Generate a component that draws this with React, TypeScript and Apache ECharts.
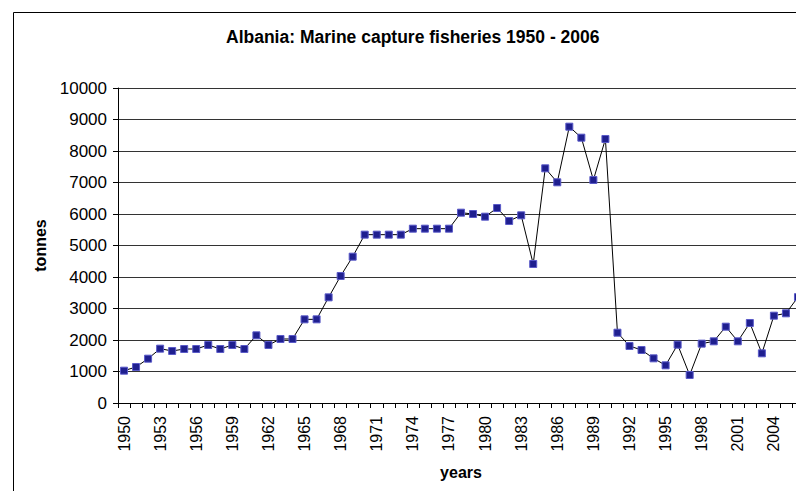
import React, { useEffect, useRef } from "react";
import * as echarts from "echarts";

const years: string[] = [];
for (let y = 1950; y <= 2006; y++) years.push(String(y));

const tonnes = [
  1026, 1143, 1407, 1725, 1651, 1714, 1714, 1841, 1714, 1841,
  1714, 2148, 1841, 2032, 2032, 2656, 2656, 3354, 4032, 4645,
  5344, 5344, 5344, 5344, 5534, 5534, 5534, 5534, 6042, 6000,
  5915, 6190, 5778, 5958, 4413, 7450, 7006, 8772, 8423, 7079,
  8381, 2232, 1810, 1683, 1418, 1196, 1852, 889, 1884, 1958,
  2423, 1958, 2540, 1577, 2772, 2847, 3360,
];

const titleText = "Albania: Marine capture fisheries 1950 - 2006";
const FONT = "'Liberation Sans', Arial, sans-serif";

export default function App() {
  const ref = useRef<HTMLDivElement>(null);
  useEffect(() => {
    if (!ref.current) return;
    document.body.style.overflow = "hidden";
    const chart = echarts.init(ref.current, undefined, { renderer: "svg" });
    chart.setOption({
      animation: false,
      backgroundColor: "#ffffff",
      textStyle: { fontFamily: FONT },
      title: {
        text: titleText,
        left: 226,
        top: 28,
        padding: 0,
        textStyle: { fontFamily: FONT, fontSize: 17.5, fontWeight: "bold", color: "#000" },
      },
      graphic: [
        {
          type: "rect",
          shape: { x: 13.5, y: 12.5, width: 900, height: 600 },
          style: { fill: "none", stroke: "#000", lineWidth: 1 },
          silent: true,
        },
      ],
      grid: { left: 118, top: 88, width: 686, height: 315, containLabel: false },
      xAxis: {
        type: "category",
        data: years,
        boundaryGap: true,
        name: "years",
        nameLocation: "middle",
        nameGap: 61,
        nameTextStyle: { fontFamily: FONT, fontSize: 16, fontWeight: "bold", color: "#000" },
        axisLine: { lineStyle: { color: "#000", width: 1 } },
        axisTick: { show: true, interval: 0, length: 5, lineStyle: { color: "#000" } },
        axisLabel: {
          interval: 2,
          rotate: 90,
          margin: 13,
          fontFamily: FONT,
          fontSize: 16,
          color: "#000",
        },
        splitLine: { show: false },
      },
      yAxis: {
        type: "value",
        min: 0,
        max: 10000,
        interval: 1000,
        name: "tonnes",
        nameLocation: "middle",
        nameGap: 70,
        nameTextStyle: { fontFamily: FONT, fontSize: 16, fontWeight: "bold", color: "#000" },
        axisLine: { show: true, lineStyle: { color: "#000", width: 1 } },
        axisTick: { show: true, length: 5, lineStyle: { color: "#000" } },
        axisLabel: {
          margin: 11,
          fontFamily: FONT,
          fontSize: 17,
          color: "#000",
          formatter: (v: number) => String(v),
        },
        splitLine: { show: true, lineStyle: { color: "#333", width: 1 } },
      },
      series: [
        {
          type: "line",
          data: tonnes,
          symbol: "rect",
          symbolSize: 7,
          clip: false,
          lineStyle: { color: "#000", width: 1 },
          itemStyle: { color: "#1f1f8f", borderColor: "#5a5ac8", borderWidth: 1 },
        },
      ],
    });
    return () => chart.dispose();
  }, []);
  return (
    <div
      ref={ref}
      style={{ position: "fixed", left: 0, top: 0, width: 830, height: 491 }}
    />
  );
}
